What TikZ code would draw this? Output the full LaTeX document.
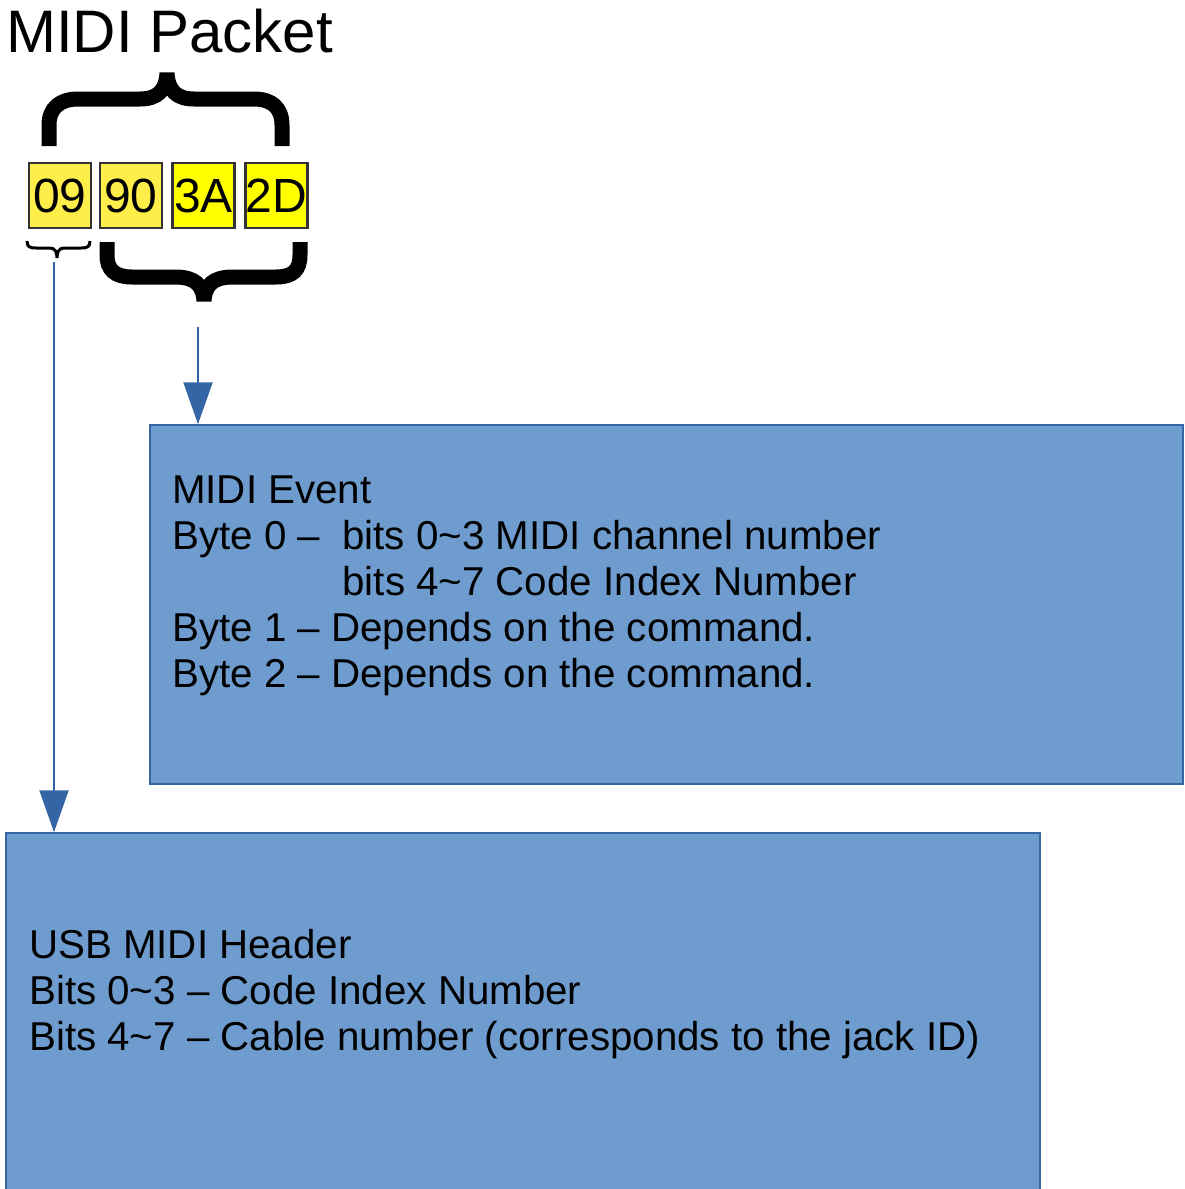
\documentclass[tikz,border=0pt]{standalone}
\usepackage{fontspec}
\setmainfont{Liberation Sans}
\usetikzlibrary{arrows.meta}
\definecolor{boxblue}{HTML}{6F9CCE}
\definecolor{edgeblue}{HTML}{3465A4}
\definecolor{paleyel}{HTML}{FFEE4A}
\definecolor{fullyel}{HTML}{FFFF00}
\tikzset{
  bytebox/.style={draw=black!80, line width=2.5pt, minimum width=62pt, minimum height=65pt, inner sep=0pt, font=\fontsize{48}{52}\selectfont},
  bigbox/.style={draw=edgeblue, fill=boxblue, line width=1.5pt, inner sep=0pt},
  txt/.style={anchor=base west, inner sep=0pt, font=\fontsize{40.3}{46}\selectfont},
  bracethick/.style={draw=black, line width=15pt, line join=miter},
  bracethin/.style={draw=black, line width=3pt},
  conn/.style={draw=edgeblue, line width=2pt, -{Triangle[length=42pt,width=29pt]}}
}
\begin{document}
\begin{tikzpicture}[x=1pt,y=-1pt]
\useasboundingbox (0,0) rectangle (1184,1189);
\clip (0,0) rectangle (1184,1189);

\node[anchor=base west, inner sep=0pt, font=\fontsize{60}{66}\selectfont] (title) at (6,52) {MIDI Packet};

% top brace
\path[bracethick] (49,146) -- (49,125) .. controls (49,108) and (60,99) .. (78,99) -- (140,99) .. controls (158,99) and (166,90) .. (167,73) .. controls (168,90) and (176,99) .. (194,99) -- (254,99) .. controls (272,99) and (282,108) .. (282,125) -- (282,146);

% byte boxes
\node[bytebox, fill=paleyel] (b0) at (60,195.5) {09};
\node[bytebox, fill=paleyel] (b1) at (131,195.5) {90};
\node[bytebox, fill=fullyel] (b2) at (203.5,195.5) {3A};
\node[bytebox, fill=fullyel] (b3) at (276.5,195.5) {2D};

% small brace under 09
\path[bracethin] (27,241) .. controls (27,247) and (30,248) .. (36,248) -- (50,248) .. controls (55,248) and (57,252) .. (57,258) .. controls (57,252) and (59,248) .. (64,248) -- (81,248) .. controls (87,248) and (90,247) .. (90,241);

% big brace under 90..2D
\path[bracethick] (107,242) -- (107,255) .. controls (107,270) and (115,277) .. (132,277) -- (175,277) .. controls (195,277) and (203,285) .. (204,301) .. controls (205,285) and (213,277) .. (233,277) -- (276,277) .. controls (293,277) and (300,270) .. (300,255) -- (300,242);

% boxes
\node[bigbox, minimum width=1033pt, minimum height=359pt] (ev) at (666.5,604.5) {};
\node[bigbox, minimum width=1034pt, minimum height=380pt] (usb) at (523,1023) {};

% texts
\node[txt] (e1) at (172,503) {MIDI Event};
\node[txt] (e2) at (172,549) {Byte 0 –\ \ bits 0\textasciitilde3 MIDI channel number};
\node[txt] (e3) at (172,595) {\hphantom{Byte 0 –\ \ }bits 4\textasciitilde7 Code Index Number};
\node[txt] (e4) at (172,641) {Byte 1 – Depends on the command.};
\node[txt] (e5) at (172,687) {Byte 2 – Depends on the command.};

\node[txt] (u1) at (29,958) {USB MIDI Header};
\node[txt] (u2) at (29,1004) {Bits 0\textasciitilde3 – Code Index Number};
\node[txt] (u3) at (29,1050) {Bits 4\textasciitilde7 – Cable number (corresponds to the jack ID)};

% connectors
\coordinate (s1) at (198,327);
\coordinate (s2) at (54,262);
\draw[conn] (s1) -- (s1 |- ev.north);
\draw[conn] (s2) -- (s2 |- usb.north);
\end{tikzpicture}
\end{document}
